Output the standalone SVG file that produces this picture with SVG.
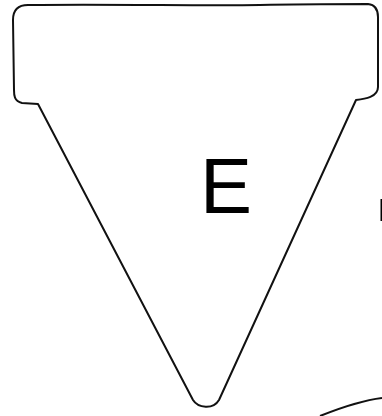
<svg xmlns="http://www.w3.org/2000/svg" width="382" height="416" viewBox="0 0 382 416">
<style>
.outline{fill:#fff;stroke:#111;stroke-width:2;stroke-linejoin:round;stroke-linecap:round}
.lbl{font-family:"Liberation Sans",Arial,sans-serif;fill:#000}
</style>
<rect width="382" height="416" fill="#fff"/>
<g id="node-E">
<path class="outline" d="M28 5 C120 4 200 6 260 5 C300 4 340 4 368 4 Q378 5 378 17 L378 87 C378 97 365 99 356 100 L219 400 C213 410 198 408 193 400 L38 104 L22 103 C14 101 14 95 14 90 L13 20 C13 10 18 5 28 5 Z"/>
<text class="lbl" x="200" y="213" font-size="78">E</text>
</g>
<g id="node-partial-right">
<rect x="380.5" y="199" width="1.5" height="22" fill="#000"/>
</g>
<g id="node-partial-bottom">
<path d="M320 416 C345 406 365 400 382 398" fill="none" stroke="#111" stroke-width="2"/>
</g>
<g id="connectors"></g>
</svg>
